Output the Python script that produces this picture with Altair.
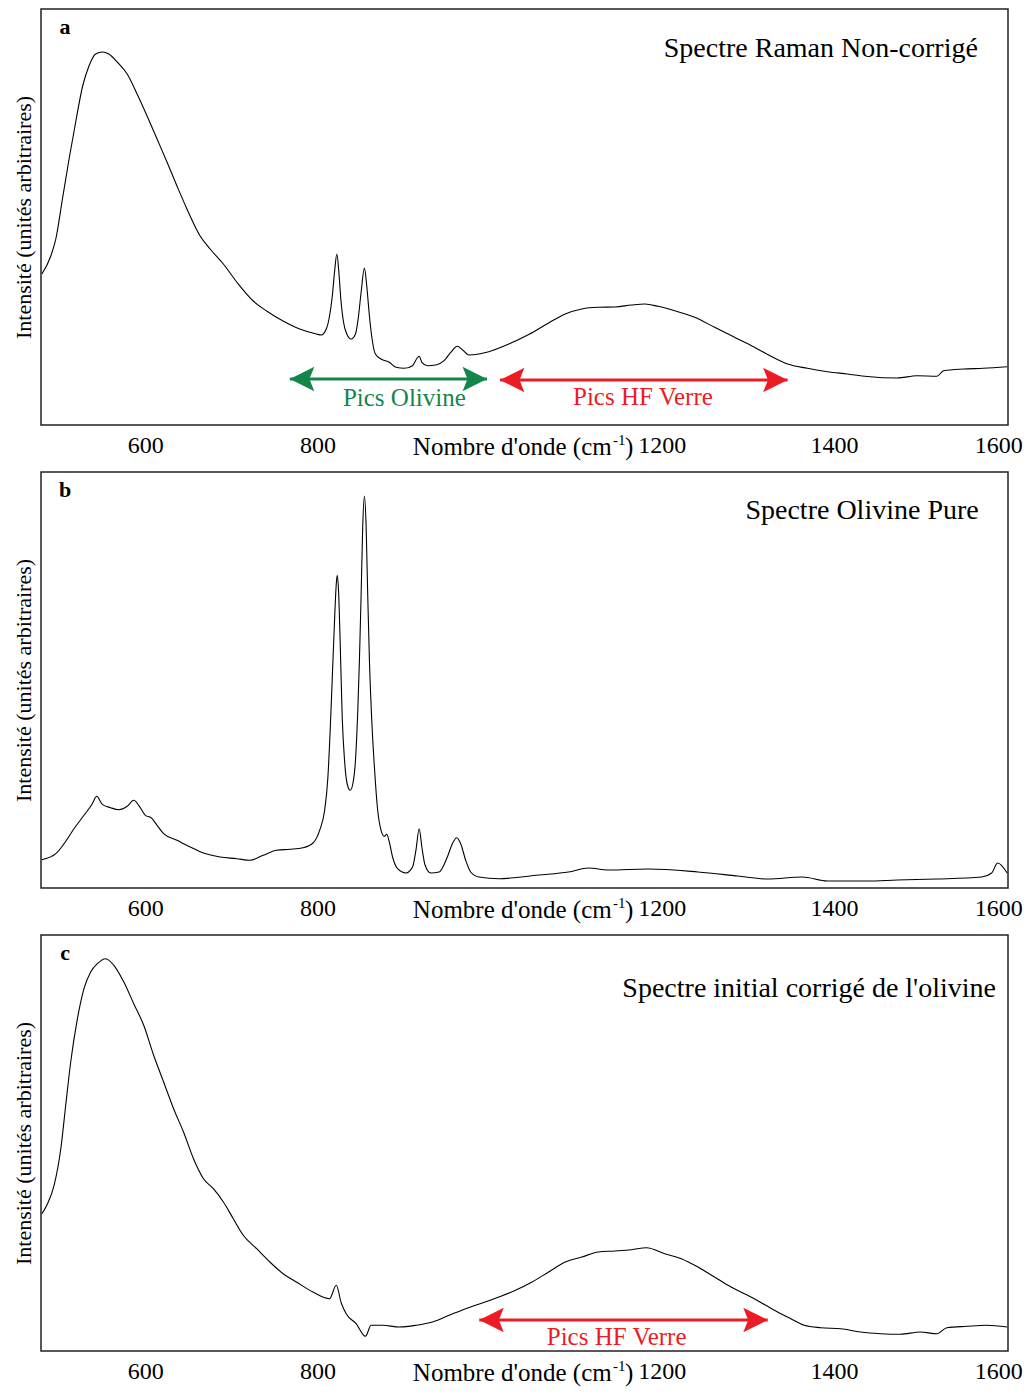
import altair as alt
import pandas as pd

FONT = "Liberation Serif"
GREEN = "#15864a"
RED = "#ed1c24"

# ---- x-axis tick labels ----
tick_values = [600, 800, 1200, 1400, 1600]

# ---- Panel a : uncorrected Raman spectrum ----
wn_a = [480, 490.4, 496.2, 503.9, 511.6, 519.3, 527.1, 534.7, 542.4, 550.2,
        557.8, 567.5, 579.1, 590.6, 602.2, 613.8, 625.3, 636.9, 648.5, 663.8,
        675.4, 690.8, 706.3, 725.5, 741, 760.1, 779.5, 798.8, 804.5, 810.3,
        814.1, 817.3, 819.9, 822.6, 824.9, 827.2, 830.3, 834.1, 839.2, 844.2,
        847.3, 850.8, 854.6, 857.3, 860.4, 863.5, 867.3, 873.9, 883.5, 891.3,
        900.9, 910.5, 915.1, 918.2, 921.3, 927.8, 937.5, 947.1, 954.9, 962.5,
        968.3, 976, 987.6, 999.1, 1022.3, 1045.4, 1068.5, 1087.8, 1107, 1126.3,
        1145.6, 1164.8, 1180.3, 1195.7, 1215, 1238.1, 1261.3, 1284.4, 1307.5, 1326.7,
        1346, 1369.1, 1392.2, 1415.4, 1438.5, 1473.2, 1496.3, 1519.4, 1527.2, 1550.3,
        1573.4, 1601]
int_a = [151, 169, 186, 226, 266, 303, 338, 359, 371, 373,
         371, 363, 351, 331, 309, 286, 263, 239, 216, 189,
         176, 161, 143, 124, 114, 104, 96, 91, 90, 96,
         109, 129, 153, 171, 153, 126, 103, 91, 86, 91,
         106, 133, 157, 139, 109, 86, 71, 66, 62.7, 57.7,
         56.7, 59.3, 66, 68.7, 62.7, 59.3, 60, 64.3, 72.7, 78.7,
         75.3, 70, 71, 73.3, 81, 90.5, 102, 111, 116, 117.7,
         118, 120, 121, 118.7, 114.3, 107.7, 97.7, 87.7, 77.7, 68.7,
         61, 56.7, 53.3, 51, 48.5, 47, 49.3, 48.7, 54.3, 56,
         56.7, 58.3]

# ---- Panel b : pure olivine spectrum ----
wn_b = [480, 496.2, 505.8, 517.3, 528.9, 538.6, 543.6, 550.2, 559.8, 569.4,
        579.1, 586.7, 592.5, 600.2, 606.8, 613.8, 621.4, 636.9, 652.3, 667.7,
        687, 706.3, 721.6, 737, 752.5, 767.9, 783.3, 794.8, 802.6, 808.4,
        812.2, 815, 817.3, 819.6, 821.9, 823, 824.5, 826.5, 828.8, 831.5,
        834.6, 838.1, 841.1, 844.2, 846.9, 848.8, 850.8, 852.6, 854.6, 856.6,
        858.4, 860.4, 863.5, 866.2, 870, 873.9, 877.7, 880.4, 883.5, 887.3,
        893.1, 902.8, 910.5, 914.4, 918.2, 921.3, 925.1, 931.7, 941.3, 950.9,
        956.7, 961.8, 966.4, 972.2, 978, 987.6, 1010.7, 1057, 1091.6, 1114.8,
        1137.9, 1184.1, 1241.9, 1288.2, 1322.9, 1363.3, 1392.2, 1438.5, 1473.2, 1519.4,
        1571.5, 1583, 1590, 1601]
int_b = [28.3, 34.3, 44.3, 59.3, 72.7, 84.3, 91.7, 83.7, 80.3, 78.3,
         81.7, 87.7, 82.7, 72.7, 70.3, 62.7, 54.3, 47.7, 41, 35,
         31, 29.3, 27.7, 32.7, 37.7, 38.7, 40.3, 45, 57.7, 77.7,
         111, 161, 211, 261, 304, 312.7, 298, 244, 171, 127.7,
         104, 97.7, 104, 127.7, 177.7, 227.7, 294, 361, 392, 361,
         294, 227.7, 161, 121, 77.7, 57.7, 51.7, 53.7, 46, 31,
         19.3, 15, 21, 37.7, 59.3, 41, 22.7, 15, 16, 31,
         44.3, 50.3, 44.3, 27.7, 16, 11, 9.3, 13, 16, 20,
         18, 19, 16, 12, 9, 11, 7, 7, 8, 9,
         11, 15, 25, 15]

# ---- Panel c : initial spectrum corrected for olivine ----
wn_c = [480, 486.6, 494.2, 502, 507.7, 513.5, 521.3, 528.9, 536.7, 544.4,
        554, 563.6, 575.2, 586.7, 598.3, 609.8, 621.4, 633, 644.5, 656.1,
        667.7, 679.2, 690.8, 702.3, 713.9, 729.4, 744.8, 760.1, 775.6, 794.8,
        814.1, 821.9, 827.7, 833.4, 845, 855.8, 862.4, 875.8, 895.1, 914.4,
        933.6, 952.9, 972.2, 991.4, 1010.7, 1030, 1049.2, 1068.5, 1087.8, 1107,
        1126.3, 1145.6, 1164.8, 1182.2, 1203.4, 1222.6, 1241.9, 1261.2, 1280.4, 1299.7,
        1319, 1338.2, 1349.8, 1365.3, 1384.5, 1407.6, 1430.7, 1453.8, 1477, 1500.1,
        1519.4, 1531, 1554.1, 1577.2, 1601]
int_c = [137.3, 147.3, 165.7, 202.3, 245.7, 289, 332.3, 362.3, 379, 387.3,
         392.3, 385.7, 369, 347.3, 325.7, 295.7, 269, 242.3, 219, 192.3,
         172.3, 162.3, 149, 132.3, 115.7, 102.3, 89, 77.3, 69, 59,
         52.3, 65.7, 48, 37.3, 27.3, 14.7, 25.7, 25.7, 24, 25.7,
         29, 35.7, 42.3, 48, 54, 60.7, 69, 79, 89, 94,
         99, 100, 101.3, 103.3, 97.3, 92.3, 84, 74, 64, 55.7,
         46.5, 37.3, 32.3, 25.7, 23.3, 22.3, 19, 17.3, 16.7, 19,
         17.3, 23.3, 24.7, 25.7, 24]

# ---- annotations (in data units) ----
panel_letters = ["a", "b", "c"]
panel_titles = ["Spectre Raman Non-corrigé", "Spectre Olivine Pure",
                "Spectre initial corrigé de l'olivine"]
title_wn = [1567, 1568, 1588]
title_val = [376, 377, 362]

arrows_a = {"x1": [768, 1012], "x2": [997, 1346], "v": [46, 45],
            "col": [GREEN, RED], "txt": ["Pics Olivine", "Pics HF Verre"],
            "tx": [901, 1178], "tv": [27, 28]}
arrows_c = {"x1": [988], "x2": [1323], "v": [31], "col": [RED],
            "txt": ["Pics HF Verre"], "tx": [1147.5], "tv": [14]}

XDOM = [479, 1602]
YDOM = [0, 416]
W, H = 967, 416

xscale = alt.Scale(domain=XDOM, nice=False, zero=False)
yscale = alt.Scale(domain=YDOM, nice=False, zero=False)
xaxis = alt.Axis(values=tick_values, format="d", title=None, grid=False, domain=False,
                 ticks=False, tickSize=0, labelFlush=5, labelFlushOffset=16,
                 labelFontSize=24, labelFont=FONT, labelColor="black", labelPadding=8)
yaxis = alt.Axis(title="Intensité (unités arbitraires)", labels=False, ticks=False,
                 domain=False, grid=False, titleFont=FONT, titleFontSize=22,
                 titleFontWeight="normal", titleColor="black", titlePadding=6)

HEAD_R = "M0,0L-2,-1L-1.6,0L-2,1Z"
HEAD_L = "M0,0L2,-1L1.6,0L2,1Z"


def X(f):
    return alt.X(f, scale=xscale, axis=xaxis)


def Y(f):
    return alt.Y(f, scale=yscale, axis=yaxis)


def build_panel(wn, vals, letter, title, twn, tval, arrows):
    df = pd.DataFrame({"wn": wn, "v": vals})
    line = alt.Chart(df).mark_line(color="black", strokeWidth=1.1,
                                   interpolate="monotone").encode(
        x=X("wn:Q"), y=Y("v:Q"))
    layers = [line]

    lab = alt.Chart(pd.DataFrame({"wn": [507], "v": [398], "t": [letter]})).mark_text(
        font=FONT, fontSize=22, fontWeight="bold", color="black", baseline="middle"
    ).encode(x=X("wn:Q"), y=Y("v:Q"), text="t:N")
    layers.append(lab)

    ttl = alt.Chart(pd.DataFrame({"wn": [twn], "v": [tval], "t": [title]})).mark_text(
        font=FONT, fontSize=28, color="black", align="right", baseline="middle"
    ).encode(x=X("wn:Q"), y=Y("v:Q"), text="t:N")
    layers.append(ttl)

    # x-axis title composed of text pieces (with superscript -1)
    xt = alt.Chart(pd.DataFrame({"wn": [1141.8], "t": ["Nombre d'onde (cm"]})).mark_text(
        font=FONT, fontSize=25, color="black", align="right", baseline="alphabetic"
    ).encode(x=X("wn:Q"), y=alt.value(H + 30), text="t:N")
    xs = alt.Chart(pd.DataFrame({"wn": [1143.3], "t": ["-1"]})).mark_text(
        font=FONT, fontSize=15, color="black", align="left", baseline="alphabetic"
    ).encode(x=X("wn:Q"), y=alt.value(H + 20), text="t:N")
    xp = alt.Chart(pd.DataFrame({"wn": [1157.2], "t": [")"]})).mark_text(
        font=FONT, fontSize=25, color="black", align="left", baseline="alphabetic"
    ).encode(x=X("wn:Q"), y=alt.value(H + 30), text="t:N")
    layers += [xt, xs, xp]

    if arrows is not None:
        adf = pd.DataFrame({"x1": arrows["x1"], "x2": arrows["x2"], "v": arrows["v"],
                            "col": arrows["col"]})
        rule = alt.Chart(adf).mark_rule(strokeWidth=3).encode(
            x=X("x1:Q"), x2="x2:Q", y=Y("v:Q"),
            color=alt.Color("col:N", scale=None))
        hr = alt.Chart(adf).mark_point(shape=HEAD_R, filled=True, size=600, opacity=1,
                                       strokeWidth=0).encode(
            x=X("x2:Q"), y=Y("v:Q"), color=alt.Color("col:N", scale=None))
        hl = alt.Chart(adf).mark_point(shape=HEAD_L, filled=True, size=600, opacity=1,
                                       strokeWidth=0).encode(
            x=X("x1:Q"), y=Y("v:Q"), color=alt.Color("col:N", scale=None))
        tdf = pd.DataFrame({"tx": arrows["tx"], "tv": arrows["tv"],
                            "txt": arrows["txt"], "col": arrows["col"]})
        txt = alt.Chart(tdf).mark_text(font=FONT, fontSize=25, baseline="middle").encode(
            x=X("tx:Q"), y=Y("tv:Q"), text="txt:N",
            color=alt.Color("col:N", scale=None))
        layers += [rule, hr, hl, txt]

    return alt.layer(*layers).properties(width=W, height=H)


pa = build_panel(wn_a, int_a, panel_letters[0], panel_titles[0], title_wn[0], title_val[0], arrows_a)
pb = build_panel(wn_b, int_b, panel_letters[1], panel_titles[1], title_wn[1], title_val[1], None)
pc = build_panel(wn_c, int_c, panel_letters[2], panel_titles[2], title_wn[2], title_val[2], arrows_c)

chart = alt.vconcat(pa, pb, pc, spacing=47, bounds="flush").properties(
    padding={"left": 3, "top": 0, "right": 0, "bottom": 0}
).configure(background="white").configure_view(stroke="#222222", strokeWidth=1.5)

chart.save("out.html", embed_options={"renderer": "svg", "actions": False})
